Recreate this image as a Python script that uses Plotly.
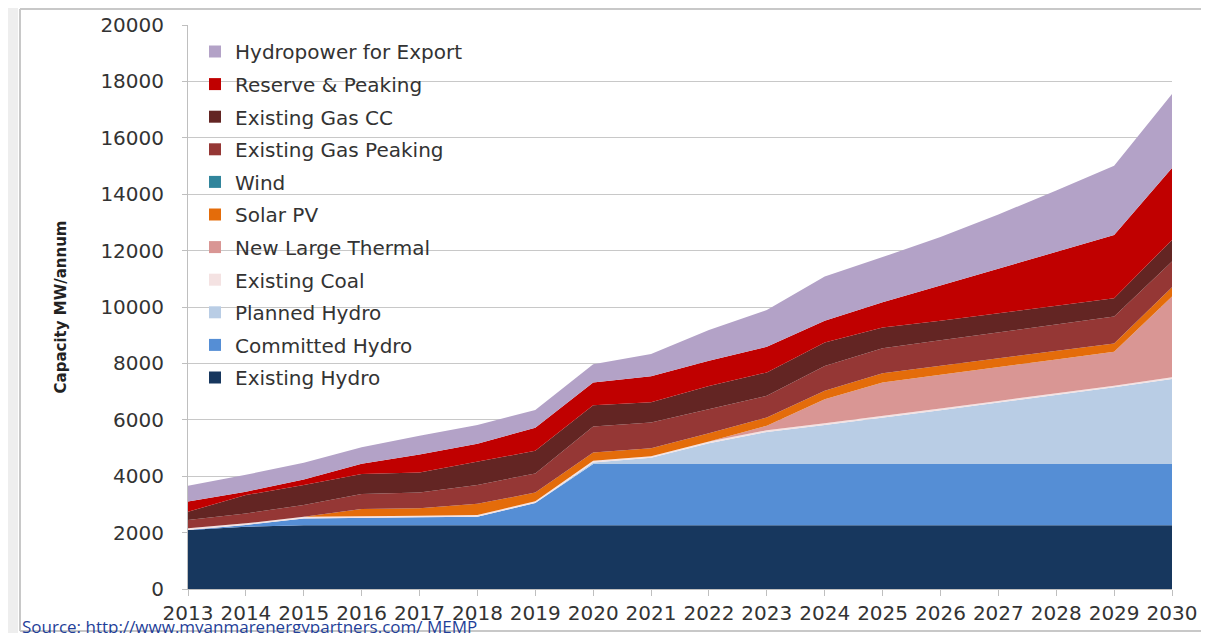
import plotly.graph_objects as go

years = list(range(2013, 2031))

existing_hydro = [2090, 2210, 2260, 2260, 2260, 2260, 2260, 2260, 2260, 2260, 2260, 2260, 2260, 2260, 2260, 2260, 2260, 2260]
committed_hydro = [0, 60, 240, 250, 280, 300, 790, 2170, 2170, 2170, 2170, 2170, 2170, 2170, 2170, 2170, 2170, 2170]
planned_hydro = [0, 0, 0, 0, 0, 0, 0, 60, 220, 740, 1140, 1390, 1640, 1910, 2180, 2450, 2720, 3020]
existing_coal = [60, 60, 60, 60, 60, 60, 60, 60, 60, 60, 60, 60, 60, 60, 60, 60, 60, 60]
new_large_thermal = [0, 0, 0, 0, 0, 0, 0, 0, 0, 0, 160, 850, 1190, 1200, 1210, 1200, 1200, 2860]
solar_pv = [0, 0, 0, 270, 260, 400, 310, 290, 280, 290, 290, 300, 330, 320, 300, 310, 300, 330]
wind = [0, 0, 0, 0, 0, 0, 0, 0, 0, 0, 0, 0, 0, 0, 0, 0, 0, 0]
gas_peaking = [300, 350, 420, 530, 560, 670, 680, 920, 910, 860, 770, 880, 890, 900, 920, 930, 950, 910]
gas_cc = [290, 650, 710, 710, 710, 820, 800, 760, 720, 820, 830, 830, 730, 690, 680, 660, 650, 770]
reserve_peaking = [360, 120, 190, 360, 640, 640, 820, 800, 920, 890, 910, 770, 900, 1260, 1580, 1920, 2240, 2550]
hydro_export = [560, 600, 600, 590, 660, 670, 630, 650, 790, 1090, 1300, 1570, 1600, 1710, 1920, 2170, 2460, 2620]

y_ticks = list(range(0, 20001, 2000))
y_tick_labels = [str(v) for v in y_ticks]
x_tick_labels = [str(y) for y in years]

series = [
    ("Existing Hydro", existing_hydro, "#17375E"),
    ("Committed Hydro", committed_hydro, "#558ED5"),
    ("Planned Hydro", planned_hydro, "#B9CDE5"),
    ("Existing Coal", existing_coal, "#F4E2E2"),
    ("New Large Thermal", new_large_thermal, "#D99694"),
    ("Solar PV", solar_pv, "#E46C0A"),
    ("Wind", wind, "#31859C"),
    ("Existing Gas Peaking", gas_peaking, "#953735"),
    ("Existing Gas CC", gas_cc, "#632523"),
    ("Reserve & Peaking", reserve_peaking, "#C00000"),
    ("Hydropower for Export", hydro_export, "#B3A2C7"),
]

FONT = "DejaVu Sans"
# page body has an 8px margin; figure sized to fit the 1209x633 window
W, H = 1201, 625
# plot area in window pixels
L, R, T, B = 188, 1172, 25, 589
OFF = 8

def px(x):
    return (x - L) / (R - L)

def py(y):
    return (B - y) / (B - T)

fig = go.Figure()
for name, vals, col in series:
    fig.add_trace(go.Scatter(
        x=years, y=vals, name=name, stackgroup="cap", mode="lines",
        line=dict(width=0, color=col), fillcolor=col, showlegend=False,
        hoverinfo="x+y+name"))

# legend entries (square markers)
for name, vals, col in reversed(series):
    fig.add_trace(go.Scatter(
        x=[None], y=[None], name=name, mode="markers", legendgroup=name,
        marker=dict(symbol="square", size=9, color=col), showlegend=True))

shapes = [
    dict(type="rect", xref="paper", yref="paper", x0=px(0), x1=px(18), y0=py(0), y1=py(H + OFF + 5),
         fillcolor="#EEEEEE", line=dict(width=0), layer="below"),
    dict(type="rect", xref="paper", yref="paper", x0=px(189), x1=px(510), y0=py(395), y1=py(30),
         fillcolor="white", line=dict(width=0), layer="between"),
    dict(type="line", xref="paper", yref="paper", x0=px(20), x1=px(W + OFF + 5), y0=py(9), y1=py(9),
         line=dict(color="#C8C8C8", width=2)),
    dict(type="line", xref="paper", yref="paper", x0=px(20), x1=px(20), y0=py(9), y1=py(631),
         line=dict(color="#C8C8C8", width=2)),
    dict(type="line", xref="paper", yref="paper", x0=px(20), x1=px(W + OFF + 5), y0=py(631), y1=py(631),
         line=dict(color="#C8C8C8", width=2)),
]

fig.update_layout(
    width=W, height=H,
    margin=dict(l=L - OFF, r=W - (R - OFF), t=T - OFF, b=H - (B - OFF), autoexpand=False),
    paper_bgcolor="white", plot_bgcolor="white",
    font=dict(family=FONT, color="#333333"),
    showlegend=True,
    legend=dict(
        x=px(195), y=py(32), xanchor="left", yanchor="top",
        bgcolor="rgba(0,0,0,0)", borderwidth=0, traceorder="grouped",
        tracegroupgap=3.6, font=dict(family=FONT, size=20, color="#333333"),
        itemsizing="constant",
    ),
    xaxis=dict(
        range=[2013, 2030], tickmode="array", tickvals=years,
        ticktext=x_tick_labels,
        tickfont=dict(family=FONT, size=20, color="#333333"),
        showgrid=False, showline=True, linecolor="#BFBFBF", linewidth=1,
        ticks="outside", ticklen=6, tickcolor="#BFBFBF", zeroline=False,
    ),
    yaxis=dict(
        range=[0, 20000], tickmode="array", tickvals=y_ticks, ticktext=y_tick_labels,
        tickfont=dict(family=FONT, size=20, color="#333333"),
        showgrid=True, gridcolor="#C8C8C8", gridwidth=1,
        showline=True, linecolor="#BFBFBF", linewidth=1,
        ticks="outside", ticklen=5, tickcolor="#BFBFBF", zeroline=False,
        ticklabelstandoff=14,
        title=dict(text="<b>Capacity MW/annum</b>", standoff=30,
                   font=dict(family=FONT, size=15, color="#222222")),
    ),
    shapes=shapes,
    annotations=[
        dict(text="Source: http://www.myanmarenergypartners.com/ MEMP",
             xref="paper", yref="paper", x=px(20), y=py(626), xanchor="left", yanchor="middle",
             showarrow=False, font=dict(family="Open Sans", size=17, color="#1F3F99")),
    ],
)

fig.write_html("out.html")
